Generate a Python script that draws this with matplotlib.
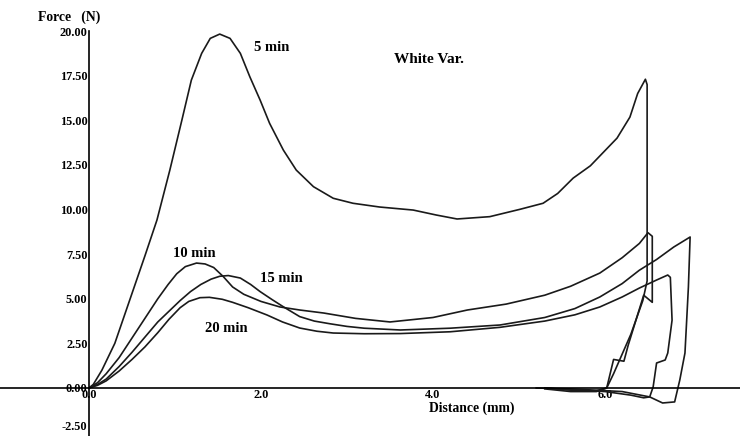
import matplotlib.pyplot as plt

# force-distance curves (distance in mm, force in N)
d5 = [0.0, 0.05, 0.15, 0.3, 0.5, 0.65, 0.79, 0.94, 1.08, 1.19, 1.31, 1.41, 1.52, 1.64, 1.76,
      1.87, 1.99, 2.1, 2.26, 2.41, 2.61, 2.84, 3.07, 3.38, 3.77, 4.04, 4.28, 4.66, 5.01, 5.28,
      5.45, 5.63, 5.83, 6.02, 6.14, 6.29, 6.38, 6.47,
      6.49, 6.49, 6.44, 6.3, 6.1, 6.02, 5.9, 5.6, 5.3]
f5 = [0.0, 0.2, 1.0, 2.5, 5.3, 7.4, 9.41, 12.21, 15.01, 17.25, 18.75, 19.59, 19.83, 19.59, 18.75,
      17.44, 16.13, 14.83, 13.33, 12.21, 11.28, 10.63, 10.35, 10.14, 9.97, 9.69, 9.47, 9.6, 10.01, 10.35,
      10.9, 11.76, 12.45, 13.4, 14.0, 15.18, 16.5, 17.3,
      17.0, 6.0, 4.9, 3.0, 0.8, 0.0, -0.15, -0.12, 0.0]

d10 = [0.0, 0.1, 0.2, 0.35, 0.5, 0.65, 0.8, 0.92, 1.02, 1.12, 1.25, 1.35, 1.45, 1.56, 1.67,
       1.8, 2.0, 2.22, 2.45, 2.73, 3.1, 3.5, 4.0, 4.4, 4.85, 5.3, 5.6, 5.94, 6.2, 6.4, 6.5,
       6.55, 6.55, 6.45, 6.27, 6.22, 6.1, 6.02, 5.9, 5.6, 5.3]
f10 = [0.0, 0.3, 0.8, 1.7, 2.8, 3.9, 5.0, 5.8, 6.4, 6.8, 7.0, 6.95, 6.75, 6.25, 5.66,
       5.25, 4.85, 4.54, 4.37, 4.2, 3.9, 3.7, 3.95, 4.37, 4.7, 5.2, 5.7, 6.44, 7.3, 8.1, 8.7,
       8.5, 4.8, 5.2, 2.4, 1.5, 1.6, 0.0, -0.2, -0.2, -0.05]

d15 = [0.0, 0.1, 0.2, 0.35, 0.5, 0.65, 0.8, 0.93, 1.06, 1.18, 1.3, 1.42, 1.52, 1.62, 1.76,
       1.88, 1.99, 2.13, 2.26, 2.45, 2.62, 2.8, 3.0, 3.2, 3.62, 4.2, 4.78, 5.3, 5.65, 5.94,
       6.2, 6.4, 6.6, 6.8, 6.99,
       6.97, 6.95, 6.93, 6.87, 6.81, 6.67, 6.52, 6.2, 5.6, 5.2]
f15 = [0.0, 0.2, 0.5, 1.2, 2.0, 2.85, 3.7, 4.3, 4.9, 5.4, 5.8, 6.1, 6.26, 6.3, 6.16,
       5.8, 5.4, 4.95, 4.55, 4.0, 3.75, 3.6, 3.45, 3.35, 3.25, 3.35, 3.53, 3.95, 4.45, 5.1,
       5.85, 6.6, 7.2, 7.9, 8.46,
       5.66, 3.8, 1.96, 0.45, -0.78, -0.84, -0.5, -0.2, -0.05, 0.0]

d20 = [0.0, 0.1, 0.2, 0.35, 0.5, 0.65, 0.8, 0.93, 1.06, 1.16, 1.29, 1.4, 1.55, 1.67, 1.85,
       2.07, 2.25, 2.45, 2.65, 2.84, 3.2, 3.62, 4.2, 4.78, 5.3, 5.65, 5.94, 6.2, 6.4, 6.6, 6.73,
       6.76, 6.78, 6.73, 6.7, 6.6, 6.56, 6.52, 6.45, 6.3, 6.0, 5.6, 5.3]
f20 = [0.0, 0.15, 0.4, 0.95, 1.6, 2.3, 3.1, 3.85, 4.5, 4.85, 5.06, 5.08, 4.97, 4.8, 4.5,
       4.09, 3.7, 3.36, 3.18, 3.08, 3.04, 3.05, 3.15, 3.4, 3.75, 4.1, 4.54, 5.1, 5.6, 6.05, 6.33,
       6.2, 3.8, 1.96, 1.57, 1.4, 0.06, -0.5, -0.55, -0.4, -0.2, -0.1, 0.0]

yticks = [-2.5, 0.0, 2.5, 5.0, 7.5, 10.0, 12.5, 15.0, 17.5, 20.0]
xticks = [0.0, 2.0, 4.0, 6.0]

font = {'family': 'Liberation Serif', 'weight': 'bold'}

fig = plt.figure(figsize=(7.4, 4.36), dpi=100)
ax = fig.add_axes([0, 0, 1, 1])

for d, f in [(d5, f5), (d10, f10), (d15, f15), (d20, f20)]:
    ax.plot(d, f, color='#1a1a1a', linewidth=1.2, solid_joinstyle='round')

ax.set_xlim(-1.035, 7.57)
ax.set_ylim(-2.69, 21.74)

ax.spines['left'].set_position(('data', 0))
ax.spines['bottom'].set_position(('data', 0))
ax.spines['right'].set_visible(False)
ax.spines['top'].set_visible(False)
ax.spines['left'].set_bounds(-2.69, 20)
ax.spines['left'].set_linewidth(1.2)
ax.spines['bottom'].set_linewidth(1.2)

ax.set_yticks(yticks)
ax.set_yticklabels(['%.2f' % v for v in yticks], **font, fontsize=8.8)
ax.set_xticks(xticks)
ax.set_xticklabels(['%.1f' % v for v in xticks], **font, fontsize=8.8)
ax.tick_params(length=0, pad=1)
# keep the lowest label inside the picture
ax.get_yticklabels()[0].set_va('bottom')

ax.text(-0.23, 20.8, 'Force   (N)', ha='center', va='center', fontsize=9.8, **font)
ax.text(4.45, -1.12, 'Distance (mm)', ha='center', va='center', fontsize=9.8, **font)
ax.text(3.95, 18.4, 'White Var.', ha='center', va='center', fontsize=11, **font)
ax.text(2.13, 19.1, '5 min', ha='center', va='center', fontsize=10.5, **font)
ax.text(1.23, 7.56, '10 min', ha='center', va='center', fontsize=10.5, **font)
ax.text(2.24, 6.16, '15 min', ha='center', va='center', fontsize=10.5, **font)
ax.text(1.6, 3.36, '20 min', ha='center', va='center', fontsize=10.5, **font)

fig.savefig('out.png', dpi=100)
